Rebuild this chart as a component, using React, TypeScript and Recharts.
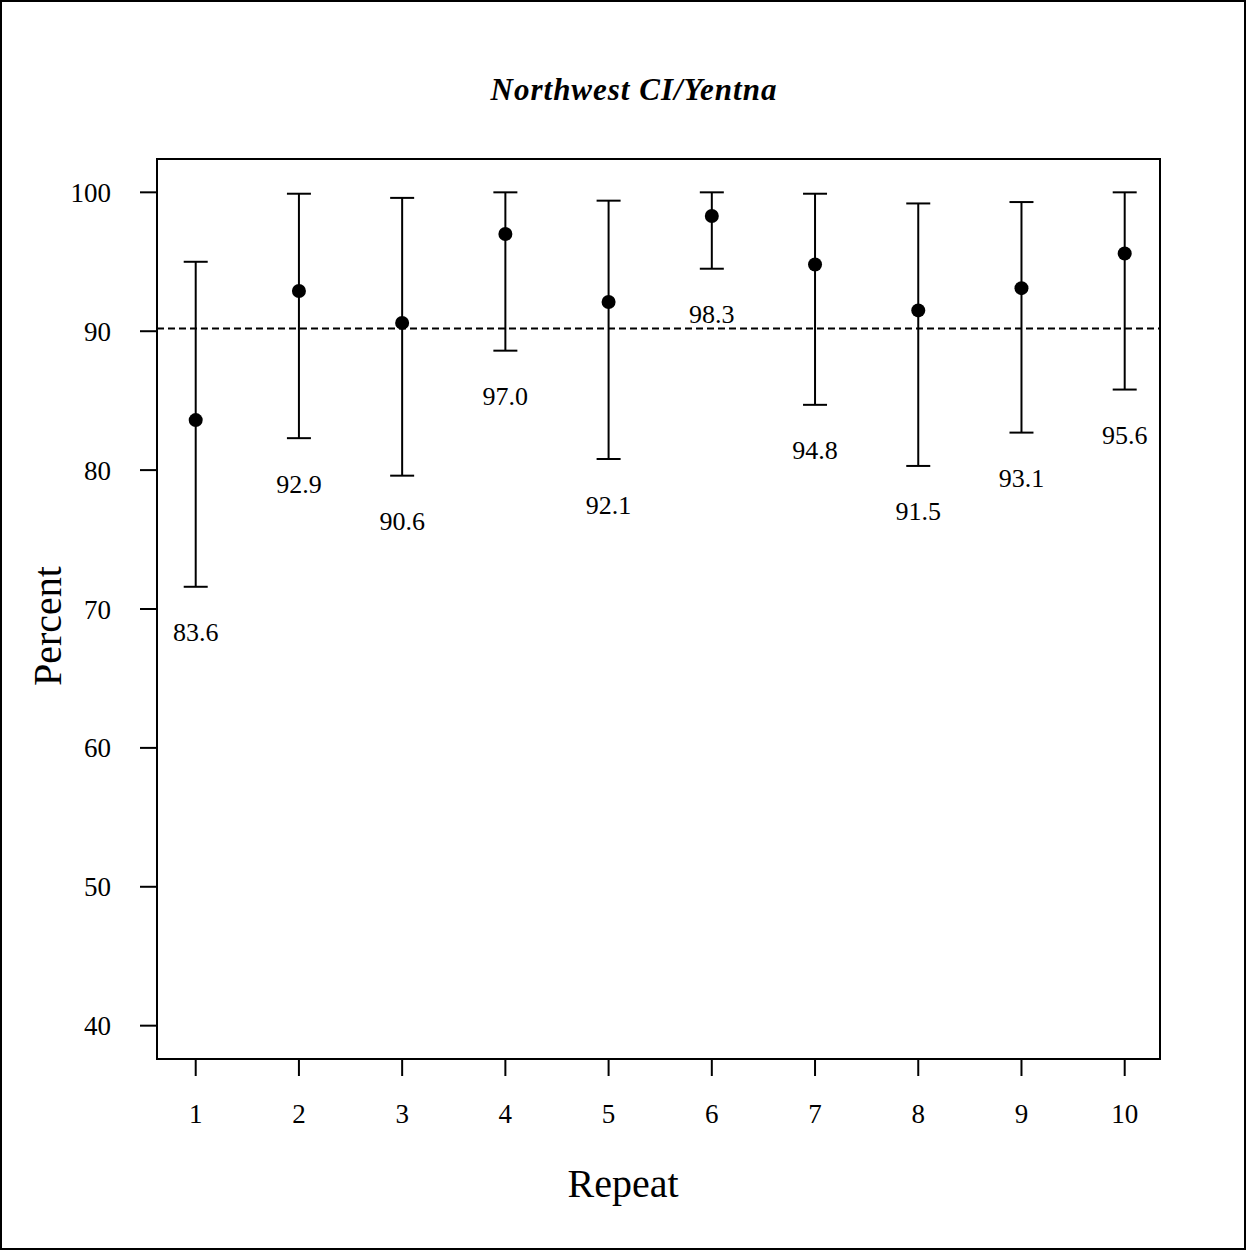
import React from 'react';
import {
  ComposedChart,
  Scatter,
  XAxis,
  YAxis,
  ErrorBar,
  ReferenceLine,
  ReferenceArea,
} from 'recharts';

const repeats = [1, 2, 3, 4, 5, 6, 7, 8, 9, 10];
const estimates = [83.6, 92.9, 90.6, 97.0, 92.1, 98.3, 94.8, 91.5, 93.1, 95.6];
const lowerBounds = [71.6, 82.3, 79.6, 88.6, 80.8, 94.5, 84.7, 80.3, 82.7, 85.8];
const upperBounds = [95.0, 99.9, 99.6, 100.0, 99.4, 100.0, 99.9, 99.2, 99.3, 100.0];
const referenceValue = 90.2;
const yTicks = [40, 50, 60, 70, 80, 90, 100];
const xTicks = [1, 2, 3, 4, 5, 6, 7, 8, 9, 10];
const titleText = 'Northwest CI/Yentna';
const xLabel = 'Repeat';
const yLabel = 'Percent';

const X_DOMAIN: [number, number] = [0.625, 10.342];
const Y_DOMAIN: [number, number] = [37.6, 102.4];
const FONT = '"Liberation Serif", "Times New Roman", Times, serif';

const pointData = repeats.map((r, i) => ({
  repeat: r,
  est: estimates[i],
  err: [estimates[i] - lowerBounds[i], upperBounds[i] - estimates[i]],
}));

const labelData = repeats.map((r, i) => ({
  repeat: r,
  lower: lowerBounds[i],
  text: estimates[i].toFixed(1),
}));

const Dot = (props: any) => {
  const { cx, cy } = props;
  if (cx == null || cy == null) return null;
  return <circle cx={cx} cy={cy} r={7} fill="#000" />;
};

const ValueLabel = (props: any) => {
  const { cx, cy, payload } = props;
  if (cx == null || cy == null) return null;
  return (
    <text
      x={cx}
      y={cy + 46}
      textAnchor="middle"
      dominantBaseline="central"
      fontFamily={FONT}
      fontSize={26}
      fill="#000"
    >
      {payload.text}
    </text>
  );
};

export default function App() {
  const W = 1247;
  const H = 1251;
  return (
    <div
      style={{
        position: 'absolute',
        left: 0,
        top: 0,
        width: W,
        height: H,
        background: '#fff',
      }}
    >
      <ComposedChart
        width={W}
        height={H}
        data={pointData}
        margin={{ top: 159, right: 87, bottom: 132, left: 57 }}
      >
        <XAxis
          type="number"
          dataKey="repeat"
          domain={X_DOMAIN}
          ticks={xTicks}
          interval={0}
          allowDataOverflow
          height={60}
          axisLine={false}
          tickSize={17}
          tickMargin={28}
          tickLine={{ stroke: '#000', strokeWidth: 2 }}
          tick={{ fill: '#000', fontSize: 27, fontFamily: FONT }}
        />
        <YAxis
          type="number"
          domain={Y_DOMAIN}
          ticks={yTicks}
          interval={0}
          allowDataOverflow
          width={100}
          axisLine={false}
          tickSize={17}
          tickMargin={29}
          tickLine={{ stroke: '#000', strokeWidth: 2 }}
          tick={{ fill: '#000', fontSize: 27, fontFamily: FONT }}
        />
        <ReferenceArea
          x1={X_DOMAIN[0]}
          x2={X_DOMAIN[1]}
          y1={Y_DOMAIN[0]}
          y2={Y_DOMAIN[1]}
          fill="none"
          fillOpacity={0}
          stroke="#000"
          strokeWidth={2}
          ifOverflow="visible"
        />
        <ReferenceLine
          y={referenceValue}
          stroke="#000"
          strokeWidth={2}
          strokeDasharray="7 4"
        />
        <Scatter
          data={pointData}
          dataKey="est"
          shape={<Dot />}
          isAnimationActive={false}
        >
          <ErrorBar
            dataKey="err"
            direction="y"
            width={12}
            stroke="#000"
            strokeWidth={2}
            isAnimationActive={false}
          />
        </Scatter>
        <Scatter
          data={labelData}
          dataKey="lower"
          shape={<ValueLabel />}
          isAnimationActive={false}
        />
      </ComposedChart>
      <svg
        width={W}
        height={H}
        style={{ position: 'absolute', left: 0, top: 0, pointerEvents: 'none' }}
      >
        <rect x={1} y={1} width={1244} height={1248} fill="none" stroke="#000" strokeWidth={2} />
        <text
          x={634}
          y={100}
          textAnchor="middle"
          fontFamily={FONT}
          fontSize={31}
          fontWeight="bold"
          fontStyle="italic"
          letterSpacing={1}
          fill="#000"
        >
          {titleText}
        </text>
        <text
          x={623}
          y={1197}
          textAnchor="middle"
          fontFamily={FONT}
          fontSize={40}
          fill="#000"
        >
          {xLabel}
        </text>
        <text
          x={0}
          y={0}
          transform="translate(61, 626) rotate(-90)"
          textAnchor="middle"
          fontFamily={FONT}
          fontSize={40}
          fill="#000"
        >
          {yLabel}
        </text>
      </svg>
    </div>
  );
}
